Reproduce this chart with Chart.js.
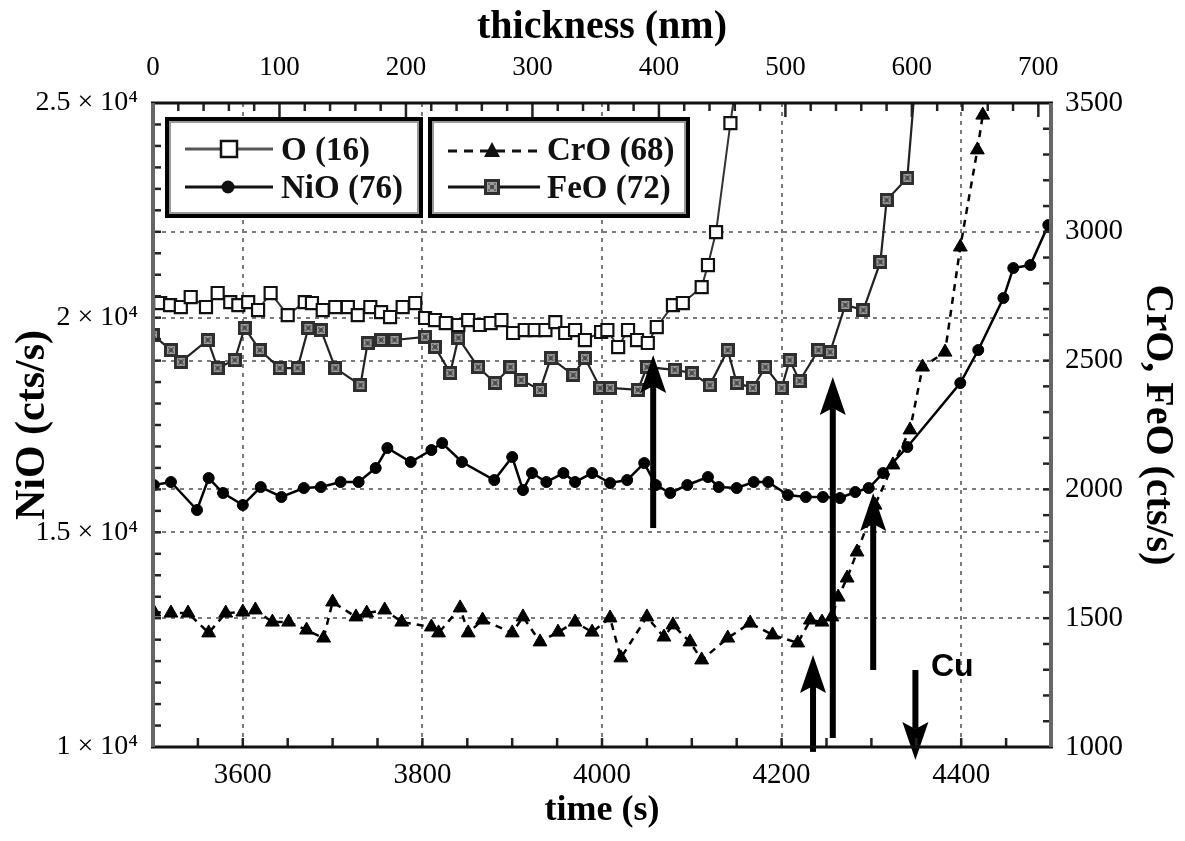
<!DOCTYPE html>
<html><head><meta charset="utf-8">
<script src="https://cdn.jsdelivr.net/npm/chart.js@4"></script>
<style>html,body{margin:0;padding:0;background:#fff;}canvas{display:block;}</style>
</head><body>
<canvas id="c" width="1185" height="841"></canvas>
<script>
// ---------- DATA ----------
const timeTicks = [3600, 3800, 4000, 4200, 4400];
const thicknessTicks = [0, 100, 200, 300, 400, 500, 600, 700];
const niTicks = [10000, 15000, 20000, 25000];
const feTicks = [1000, 1500, 2000, 2500, 3000, 3500];

// O (16) - left axis
const oTime = [3508,3519,3531,3542,3559,3572,3586,3595,3606,3617,3631,3650,3669,3677,3689,3703,3717,3728,3742,3754,3764,3778,3792,3803,3814,3826,3840,3851,3864,3876,3888,3901,3914,3925,3937,3948,3959,3970,3981,3999,4006,4018,4029,4039,4051,4061,4079,4090,4111,4118,4127,4143,4156];
const oVal  = [20341,20294,20248,20481,20248,20574,20364,20294,20364,20178,20574,20061,20364,20341,20178,20248,20248,20061,20248,20131,20015,20248,20341,19992,19945,19875,19829,19945,19829,19875,19945,19643,19712,19712,19712,19898,19643,19712,19479,19666,19712,19316,19712,19479,19410,19782,20294,20341,20713,21226,21994,24533,26466];

// NiO (76) - left axis
const niTime = [3501,3520,3549,3562,3578,3600,3620,3643,3668,3687,3709,3729,3748,3761,3787,3810,3822,3844,3880,3900,3912,3922,3938,3957,3970,3989,4009,4028,4047,4060,4076,4095,4118,4130,4150,4169,4185,4207,4227,4246,4265,4282,4297,4313,4340,4399,4419,4447,4458,4477,4497];
const niVal  = [16102,16172,15520,16265,15916,15636,16055,15823,16032,16055,16172,16172,16498,16964,16638,16917,17080,16638,16218,16754,15986,16381,16172,16381,16172,16381,16149,16218,16614,16102,15916,16102,16288,16055,16032,16172,16172,15869,15823,15823,15799,15939,16032,16381,16987,18478,19246,20457,21156,21226,22157];

// CrO (68) - right axis
const crTime = [3501,3520,3539,3562,3581,3600,3614,3633,3651,3671,3690,3700,3726,3738,3758,3777,3810,3818,3842,3851,3867,3900,3912,3931,3951,3970,3989,4009,4021,4050,4069,4079,4098,4111,4140,4165,4190,4218,4232,4245,4256,4263,4273,4284,4304,4324,4343,4357,4382,4399,4418,4424];
const crVal  = [1524,1520,1520,1443,1520,1524,1532,1485,1485,1454,1423,1563,1505,1520,1532,1485,1466,1443,1540,1443,1493,1443,1505,1408,1446,1485,1446,1501,1346,1505,1427,1474,1408,1338,1423,1481,1435,1404,1493,1485,1505,1582,1656,1757,1939,2095,2231,2475,2533,2941,3318,3453];

// FeO (72) - right axis
const feTime = [3500,3520,3531,3561,3572,3591,3602,3619,3641,3661,3673,3687,3703,3731,3739,3754,3769,3803,3814,3831,3840,3862,3881,3898,3910,3931,3943,3968,3981,3998,4009,4040,4050,4081,4100,4120,4140,4150,4168,4182,4200,4209,4220,4241,4254,4271,4291,4310,4317,4340,4349];
const feVal  = [2599,2541,2495,2580,2471,2502,2627,2541,2471,2471,2627,2619,2471,2405,2568,2580,2580,2592,2553,2452,2588,2475,2413,2475,2425,2386,2510,2444,2510,2394,2394,2386,2475,2464,2452,2405,2541,2413,2394,2475,2394,2502,2421,2541,2533,2716,2696,2883,3123,3209,3589];

// Arrows (time, tail value, tip value on the right axis)
const arrowTime = [4057, 4257, 4302, 4235, 4349];
const arrowFrom = [1850, 1035, 1299, 981, 1299];
const arrowTo   = [2522, 2436, 1986, 1357, 950];
const cuLabel = {t: 4390, v: 1310, text: 'Cu'};

// ---------- STYLES ----------
const SERIF = '"Liberation Serif", "Times New Roman", serif';

function makeFeMarker(size) {
  const c = document.createElement('canvas');
  c.width = size; c.height = size;
  const g = c.getContext('2d');
  g.fillStyle = '#2e2e2e'; g.fillRect(0, 0, size, size);
  g.fillStyle = '#9c9c9c'; g.fillRect(3, 3, size - 6, size - 6);
  g.fillStyle = '#4a4a4a'; g.fillRect(size/2 - 2, size/2 - 2, 4, 4);
  g.fillStyle = '#6a6a6a';
  g.fillRect(4, 4, 2, 2); g.fillRect(size - 6, 4, 2, 2); g.fillRect(4, size - 6, 2, 2); g.fillRect(size - 6, size - 6, 2, 2);
  return c;
}
const feMarker = makeFeMarker(14);
const feMarkerLegend = makeFeMarker(16);

const pts = (t, v) => t.map((x, i) => ({x: x, y: v[i]}));
const plain = v => String(v);

const gridColor = (edges) => (ctx) => (ctx.tick && edges.includes(ctx.tick.value)) ? 'rgba(0,0,0,0)' : '#7a7a7a';

// ---------- PLUGINS ----------
const minorTicks = {
  id: 'minorTicks',
  afterDraw(chart) {
    const {ctx, chartArea: a, scales} = chart;
    ctx.save();
    ctx.strokeStyle = '#222';
    ctx.lineWidth = 2.5;
    const seg = (x1, y1, x2, y2) => { ctx.beginPath(); ctx.moveTo(x1, y1); ctx.lineTo(x2, y2); ctx.stroke(); };
    for (let v = 3550; v < 4500; v += 50) { const p = scales.x.getPixelForValue(v); seg(p, a.bottom, p, a.bottom - 9); }
    for (let v = 20; v <= 700; v += 20) { const p = scales.x2.getPixelForValue(v); seg(p, a.top, p, a.top + (v % 100 === 0 ? 14 : 8)); }
    for (let v = 10500; v < 25000; v += 500) { const p = scales.y.getPixelForValue(v); seg(a.left, p, a.left + 8, p); }
    for (let v = 1100; v < 3500; v += 100) { const p = scales.y2.getPixelForValue(v); seg(a.right, p, a.right - 8, p); }
    // frame
    ctx.lineWidth = 3; ctx.strokeStyle = '#111';
    seg(a.left - 2, a.top, a.right + 2, a.top);
    seg(a.left - 2, a.bottom, a.right + 2, a.bottom);
    ctx.lineWidth = 4; ctx.strokeStyle = '#666';
    seg(a.left, a.top, a.left, a.bottom);
    seg(a.right, a.top, a.right, a.bottom);
    ctx.restore();
  }
};

const arrowsPlugin = {
  id: 'arrows',
  afterDatasetsDraw(chart) {
    const {ctx, scales} = chart;
    ctx.save();
    ctx.fillStyle = '#000';
    for (let i = 0; i < arrowTime.length; i++) {
      const x = scales.x.getPixelForValue(arrowTime[i]);
      const y0 = scales.y2.getPixelForValue(arrowFrom[i]);
      const y1 = scales.y2.getPixelForValue(arrowTo[i]);
      const dir = Math.sign(y1 - y0);
      const headL = 38, headW = 26, shaft = 6, notch = 7;
      const yb = y1 - dir * headL;
      const yn = yb + dir * notch;
      ctx.fillRect(x - shaft / 2, Math.min(y0, yn), shaft, Math.abs(yn - y0));
      ctx.beginPath();
      ctx.moveTo(x, y1);
      ctx.lineTo(x - headW / 2, yb);
      ctx.lineTo(x, yn);
      ctx.lineTo(x + headW / 2, yb);
      ctx.closePath();
      ctx.fill();
    }
    ctx.font = 'bold 32px "Liberation Sans", Arial, sans-serif';
    ctx.textAlign = 'center'; ctx.textBaseline = 'middle';
    ctx.fillText(cuLabel.text, scales.x.getPixelForValue(cuLabel.t), scales.y2.getPixelForValue(cuLabel.v));
    ctx.restore();
  }
};

const legendBoxes = {
  id: 'legendBoxes',
  afterDraw(chart) {
    const ctx = chart.ctx;
    ctx.save();
    const box = (x, y, w, h) => {
      ctx.fillStyle = '#fff'; ctx.fillRect(x, y, w, h);
      ctx.strokeStyle = '#999'; ctx.lineWidth = 2; ctx.strokeRect(x + 3, y + 3, w - 6, h - 6);
      ctx.strokeStyle = '#000'; ctx.lineWidth = 4; ctx.strokeRect(x, y, w, h);
    };
    box(167, 119, 254, 97);
    box(430, 119, 258, 97);
    const line = (x1, x2, y, color, w, dash) => {
      ctx.save(); ctx.strokeStyle = color; ctx.lineWidth = w; ctx.setLineDash(dash || []);
      ctx.beginPath(); ctx.moveTo(x1, y); ctx.lineTo(x2, y); ctx.stroke(); ctx.restore();
    };
    ctx.font = 'bold 33px ' + SERIF;
    ctx.fillStyle = '#111'; ctx.textBaseline = 'middle'; ctx.textAlign = 'left';
    // O (16)
    line(185, 273, 149, '#555', 3);
    ctx.fillStyle = '#fff'; ctx.fillRect(221, 141, 16, 16);
    ctx.strokeStyle = '#111'; ctx.lineWidth = 2.5; ctx.strokeRect(221, 141, 16, 16);
    ctx.fillStyle = '#111'; ctx.fillText('O (16)', 281, 151);
    // NiO (76)
    line(185, 273, 187, '#111', 3);
    ctx.beginPath(); ctx.arc(228, 187, 6.5, 0, Math.PI * 2); ctx.fill();
    ctx.fillText('NiO (76)', 281, 189);
    // CrO (68)
    line(448, 540, 151, '#111', 3, [9, 7]);
    ctx.beginPath(); ctx.moveTo(492, 142); ctx.lineTo(500, 157); ctx.lineTo(484, 157); ctx.closePath(); ctx.fill();
    ctx.fillText('CrO (68)', 547, 151);
    // FeO (72)
    line(448, 540, 187, '#111', 3);
    ctx.drawImage(feMarkerLegend, 484, 179);
    ctx.fillText('FeO (72)', 547, 189);
    ctx.restore();
  }
};

// ---------- CHART ----------
new Chart(document.getElementById('c'), {
  type: 'line',
  data: {
    datasets: [
      { label: 'O (16)', data: pts(oTime, oVal), xAxisID: 'x', yAxisID: 'y',
        borderColor: '#333', borderWidth: 2, pointStyle: 'rect', pointRadius: 8.5,
        pointBackgroundColor: '#fff', pointBorderColor: '#111', pointBorderWidth: 2.2, tension: 0 },
      { label: 'FeO (72)', data: pts(feTime, feVal), xAxisID: 'x', yAxisID: 'y2',
        borderColor: '#222', borderWidth: 2.2, pointStyle: feMarker, pointRadius: 7, tension: 0 },
      { label: 'NiO (76)', data: pts(niTime, niVal), xAxisID: 'x', yAxisID: 'y',
        borderColor: '#000', borderWidth: 2.5, pointStyle: 'circle', pointRadius: 5.5,
        pointBackgroundColor: '#000', pointBorderColor: '#000', pointBorderWidth: 1, tension: 0 },
      { label: 'CrO (68)', data: pts(crTime, crVal), xAxisID: 'x', yAxisID: 'y2',
        borderColor: '#000', borderWidth: 2.5, borderDash: [7, 6], pointStyle: 'triangle', pointRadius: 8,
        pointBackgroundColor: '#000', pointBorderColor: '#000', pointBorderWidth: 1, tension: 0 }
    ]
  },
  options: {
    responsive: false, animation: false, devicePixelRatio: 1,
    layout: { padding: 0 },
    plugins: { legend: { display: false }, tooltip: { enabled: false } },
    scales: {
      x: {
        type: 'linear', position: 'bottom', min: 3500, max: 4500,
        afterBuildTicks: s => { s.ticks = timeTicks.map(v => ({value: v})); },
        afterFit: s => { s.height = 94; },
        grid: { color: '#7a7a7a', lineWidth: 2, drawTicks: false },
        border: { display: false, dash: [4, 5] },
        ticks: { padding: 11, color: '#000', font: { family: SERIF, size: 29 }, callback: plain },
        title: { display: true, text: 'time (s)', color: '#000', padding: { top: 0, bottom: 9 }, font: { family: SERIF, size: 36, weight: 'bold' } }
      },
      x2: {
        type: 'linear', position: 'top', min: 0, max: 710,
        afterBuildTicks: s => { s.ticks = thicknessTicks.map(v => ({value: v})); },
        afterFit: s => { s.height = 103; },
        grid: { display: false, drawTicks: false },
        border: { display: false },
        ticks: { padding: 19, color: '#000', font: { family: SERIF, size: 27 }, callback: plain },
        title: { display: true, text: 'thickness (nm)', color: '#000', padding: { top: 4, bottom: 0 }, font: { family: SERIF, size: 40, weight: 'bold' } }
      },
      y: {
        type: 'linear', position: 'left', min: 10000, max: 25000,
        afterBuildTicks: s => { s.ticks = niTicks.map(v => ({value: v})); },
        afterFit: s => { s.width = 153; },
        grid: { color: gridColor([10000, 25000]), lineWidth: 2, drawTicks: false },
        border: { display: false, dash: [4, 5] },
        ticks: { padding: 15, color: '#000', font: { family: SERIF, size: 28 },
                 callback: v => (v / 10000) + ' \u00d7 10\u2074' },
        title: { display: true, text: 'NiO (cts/s)', color: '#000', padding: { top: 8, bottom: 0 }, font: { family: SERIF, size: 42, weight: 'bold' } }
      },
      y2: {
        type: 'linear', position: 'right', min: 1000, max: 3500,
        afterBuildTicks: s => { s.ticks = feTicks.map(v => ({value: v})); },
        afterFit: s => { s.width = 134; },
        grid: { color: gridColor([1000, 3500]), lineWidth: 2, drawTicks: false },
        border: { display: false, dash: [4, 5] },
        ticks: { padding: 14, color: '#000', font: { family: SERIF, size: 29 }, callback: plain },
        title: { display: true, text: 'CrO, FeO (cts/s)', color: '#000', padding: { top: 4, bottom: 0 }, font: { family: SERIF, size: 40, weight: 'bold' } }
      }
    }
  },
  plugins: [minorTicks, arrowsPlugin, legendBoxes]
});
</script>
</body></html>
